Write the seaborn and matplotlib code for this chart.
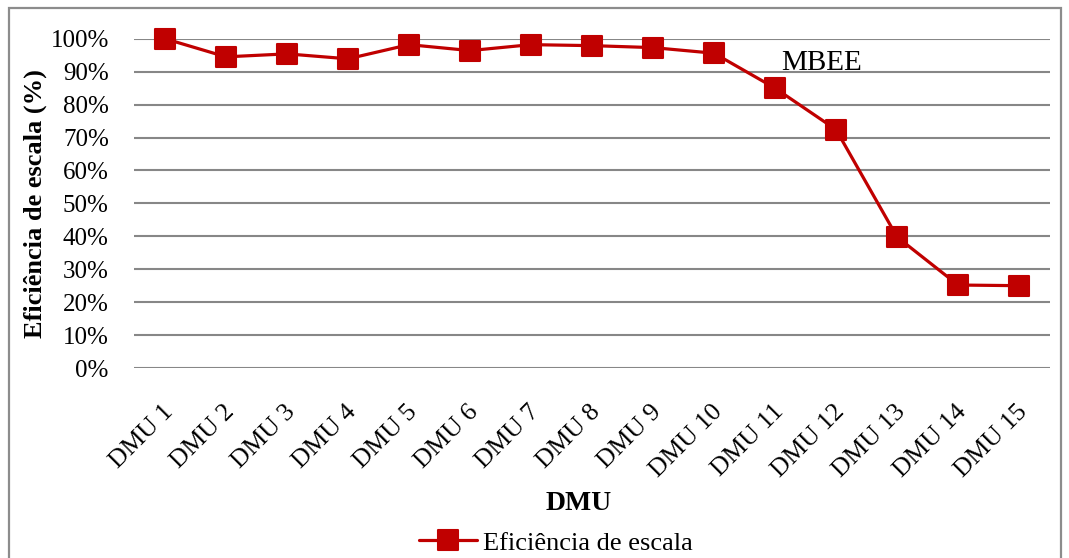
import matplotlib.pyplot as plt
import matplotlib.transforms as mtransforms
import seaborn as sns
import pandas as pd
from matplotlib.markers import MarkerStyle
from matplotlib.patches import Rectangle
from matplotlib.ticker import PercentFormatter

# Dados
dmus = [f"DMU {i}" for i in range(1, 16)]
eficiencia = [1.000, 0.945, 0.954, 0.939, 0.982, 0.964, 0.982, 0.979,
              0.973, 0.956, 0.850, 0.724, 0.398, 0.252, 0.250]
yticks = [i / 10 for i in range(11)]

df = pd.DataFrame({"DMU": dmus, "Eficiência de escala": eficiencia})

sns.set_style("white")
plt.rcParams["font.family"] = ["Liberation Serif", "DejaVu Serif"]
plt.rcParams["text.color"] = "black"
plt.rcParams["axes.labelcolor"] = "black"
plt.rcParams["xtick.color"] = "black"
plt.rcParams["ytick.color"] = "black"

fig = plt.figure(figsize=(10.69, 5.58), dpi=100)
ax = fig.add_axes([0.1258, 0.3405, 0.856, 0.5901])

sns.lineplot(data=df, x="DMU", y="Eficiência de escala", color="#C00000",
             linewidth=2.3, marker=MarkerStyle("s", joinstyle="round"),
             markersize=14, markeredgewidth=1.5, markeredgecolor="#C00000",
             ax=ax, label="Eficiência de escala", legend=False, clip_on=False)

ax.set_xlim(-0.5, len(dmus) - 0.5)
ax.set_ylim(0, 1)
ax.set_yticks(yticks)
ax.yaxis.set_major_formatter(PercentFormatter(1.0, decimals=0))
ax.grid(axis="y", color="#878787", linewidth=1.5)
ax.grid(axis="x", visible=False)
ax.set_axisbelow(True)
for s in ax.spines.values():
    s.set_visible(False)

ax.tick_params(axis="y", left=False, labelsize=18, pad=15)
ax.tick_params(axis="x", bottom=False, labelsize=18.5, pad=2)
plt.setp(ax.get_xticklabels(), rotation=45, ha="right", va="center",
         rotation_mode="anchor")
offset = mtransforms.ScaledTranslation(0.05, -0.33, fig.dpi_scale_trans)
for lab in ax.get_xticklabels():
    lab.set_transform(lab.get_transform() + offset)

ax.set_xlabel("DMU", fontsize=20, fontweight="bold", va="top")
ax.xaxis.set_label_coords(0.485, -0.375)
ax.set_ylabel("Eficiência de escala (%)", fontsize=19, fontweight="bold", va="bottom")
ax.yaxis.set_label_coords(-0.096, 0.5)

ax.text(10.77, 0.925, "MBEE", fontsize=21, ha="center", va="center")

fig.legend(loc="center", bbox_to_anchor=(0.52, 0.027), frameon=False,
           fontsize=19, handlelength=2.2, handletextpad=0.2)

fig.patches.append(Rectangle((9 / 1069, -0.05), 1052 / 1069, 1.05 - 8 / 558,
                             transform=fig.transFigure, fill=False,
                             edgecolor="#8c8c8c", linewidth=1.6))

fig.savefig("out.png", dpi=100)
